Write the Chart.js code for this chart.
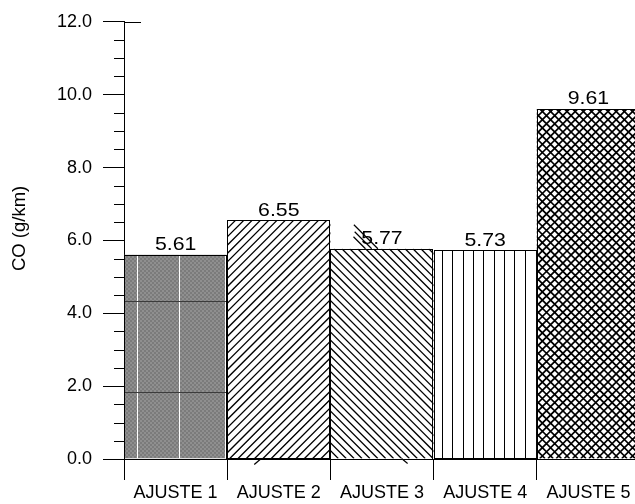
<!DOCTYPE html>
<html>
<head>
<meta charset="utf-8">
<script src="https://cdn.jsdelivr.net/npm/chart.js@4"></script>
<style>
  html, body { margin: 0; padding: 0; background: #fff; overflow: hidden; }
  #wrap { width: 641px; height: 504px; }
</style>
</head>
<body>
<div id="wrap"><canvas id="c" width="641" height="504"></canvas></div>
<script>
// CO emissions per adjustment setting
const categories = ['AJUSTE 1', 'AJUSTE 2', 'AJUSTE 3', 'AJUSTE 4', 'AJUSTE 5'];
const coValues = [5.61, 6.55, 5.77, 5.73, 9.61];
const yMajorStep = 2;
const yMinorStep = 0.5;

const FONT = "'Liberation Sans', Arial, Helvetica, sans-serif";

// Fill style for each bar (same order as categories)
const fillKinds = ['checker', 'diagUp', 'diagDown', 'vertical', 'cross'];

function makeChecker() {
  const t = document.createElement('canvas');
  t.width = 4; t.height = 4;
  const g = t.getContext('2d');
  g.fillStyle = '#7b7b7b'; g.fillRect(0, 0, 4, 4);
  g.fillStyle = '#8f8f8f';
  g.fillRect(0, 0, 2, 2); g.fillRect(2, 2, 2, 2);
  return t;
}
const checkerTile = makeChecker();

function drawFill(ctx, kind, l, t, r, b) {
  const w = r - l, h = b - t;
  ctx.strokeStyle = '#000';
  if (kind === 'checker') {
    ctx.fillStyle = ctx.createPattern(checkerTile, 'repeat');
    ctx.fillRect(l, t, w, h);
    // texture seams of the fill
    ctx.strokeStyle = '#ffffff';
    ctx.lineWidth = 1;
    [0.126, 0.533, 0.978].forEach(f => {
      const x = Math.round(l + f * w) + 0.5;
      ctx.beginPath(); ctx.moveTo(x, t); ctx.lineTo(x, b); ctx.stroke();
    });
    ctx.strokeStyle = '#3c3c3c';
    [0.773, 0.324].forEach(f => {
      const y = Math.round(b - f * h) + 0.5;
      ctx.beginPath(); ctx.moveTo(l, y); ctx.lineTo(r, y); ctx.stroke();
    });
    return;
  }
  ctx.fillStyle = '#fff';
  ctx.fillRect(l, t, w, h);
  ctx.beginPath();
  if (kind === 'diagUp') {
    const s = 8.3;
    ctx.lineWidth = 1.3;
    for (let x = l - h; x < r + s; x += s) {
      ctx.moveTo(x, b); ctx.lineTo(x + h, t);
    }
  } else if (kind === 'diagDown') {
    const s = 7.9;
    ctx.lineWidth = 1.3;
    for (let x = l - h; x < r + s; x += s) {
      ctx.moveTo(x, t); ctx.lineTo(x + h, b);
    }
  } else if (kind === 'vertical') {
    const s = 10.3;
    ctx.lineWidth = 1;
    for (let x = l + 8.5; x < r - 2; x += s) {
      const px = Math.round(x) + 0.5;
      ctx.moveTo(px, t); ctx.lineTo(px, b);
    }
  } else if (kind === 'cross') {
    const s = 8.2;
    ctx.lineWidth = 1.7;
    for (let x = l - h; x < r + s; x += s) {
      ctx.moveTo(x, b); ctx.lineTo(x + h, t);
      ctx.moveTo(x, t); ctx.lineTo(x + h, b);
    }
  }
  ctx.stroke();
}

// a few hatch strokes that run past the bar outline
function drawStrays(ctx, kind, l, t, r, b) {
  ctx.save();
  ctx.strokeStyle = '#000';
  ctx.lineWidth = 1.2;
  ctx.beginPath();
  if (kind === 'diagDown') {
    // above the top edge, over the label
    [[0.34, 12], [0.40, 17], [0.46, 24]].forEach(([f, len]) => {
      const x0 = l + f * (r - l);
      ctx.moveTo(x0 - len, t - len); ctx.lineTo(x0, t);
    });
    // below the base
    const xb = l + 0.69 * (r - l);
    ctx.moveTo(xb, b); ctx.lineTo(xb + 6, b + 5);
  } else if (kind === 'diagUp') {
    const xb = l + 0.33 * (r - l);
    ctx.moveTo(xb, b); ctx.lineTo(xb - 7, b + 6);
  }
  ctx.stroke();
  ctx.restore();
}

const barPainter = {
  id: 'barPainter',
  afterDatasetsDraw(chart) {
    const ctx = chart.ctx;
    const meta = chart.getDatasetMeta(0);
    meta.data.forEach((bar, i) => {
      const l = bar.x - bar.width / 2, r = bar.x + bar.width / 2;
      const t = bar.y, b = bar.base;
      ctx.save();
      ctx.beginPath(); ctx.rect(l, t, r - l, b - t); ctx.clip();
      drawFill(ctx, fillKinds[i], l, t, r, b);
      ctx.restore();
      // outline
      ctx.save();
      ctx.strokeStyle = '#000'; ctx.lineWidth = 1;
      ctx.strokeRect(Math.round(l) + 0.5, Math.round(t) + 0.5, Math.round(r - l) - 1, Math.round(b - t));
      ctx.restore();
      // value label
      ctx.save();
      ctx.fillStyle = '#000';
      ctx.font = '18.5px ' + FONT;
      ctx.textAlign = 'center';
      ctx.textBaseline = 'alphabetic';
      ctx.translate(bar.x, t - 4.5);
      ctx.scale(1.15, 1);
      ctx.fillText(coValues[i].toFixed(2), 0, 0);
      ctx.restore();
      drawStrays(ctx, fillKinds[i], l, t, r, b);
    });
  },
  afterDraw(chart) {
    const ctx = chart.ctx;
    const y = chart.scales.y;
    const ax = chart.chartArea.left;
    // minor ticks on the value axis
    ctx.save();
    ctx.strokeStyle = '#000'; ctx.lineWidth = 1;
    ctx.beginPath();
    for (let v = 0; v <= y.max + 1e-9; v += yMinorStep) {
      if (Math.abs(v / yMajorStep - Math.round(v / yMajorStep)) < 1e-6) continue;
      const py = Math.round(y.getPixelForValue(v)) + 0.5;
      ctx.moveTo(ax - 10, py); ctx.lineTo(ax, py);
    }
    // top tick runs on past the axis
    const pt = Math.round(y.getPixelForValue(y.max)) + 0.5;
    ctx.moveTo(ax, pt); ctx.lineTo(ax + 17, pt);
    ctx.stroke();
    // axis title
    ctx.translate(20, (chart.chartArea.top + chart.chartArea.bottom) / 2 - 12);
    ctx.rotate(-Math.PI / 2);
    ctx.fillStyle = '#000';
    ctx.font = '18.5px ' + FONT;
    ctx.textAlign = 'center';
    ctx.textBaseline = 'middle';
    ctx.fillText('CO (g/km)', 0, 0);
    ctx.restore();
  }
};

new Chart(document.getElementById('c'), {
  type: 'bar',
  data: {
    labels: categories,
    datasets: [{
      data: coValues,
      backgroundColor: 'rgba(0,0,0,0)',
      borderWidth: 0,
      barPercentage: 1,
      categoryPercentage: 1
    }]
  },
  options: {
    responsive: false,
    animation: false,
    devicePixelRatio: 1,
    layout: { autoPadding: false, padding: { top: 17, right: 1, left: 0, bottom: 0 } },
    plugins: { legend: { display: false }, tooltip: { enabled: false } },
    scales: {
      x: {
        offset: true,
        grid: { offset: true, drawOnChartArea: false, tickLength: 21, tickColor: '#000', tickWidth: 1 },
        border: { color: '#000', width: 1 },
        ticks: { color: '#000', font: { size: 18, family: FONT }, padding: 2, maxRotation: 0, autoSkip: false },
        afterFit(s) { s.height = 45; }
      },
      y: {
        min: 0, max: 12,
        grid: { drawOnChartArea: false, tickLength: 21, tickColor: '#000', tickWidth: 1 },
        border: { color: '#000', width: 1 },
        ticks: { stepSize: yMajorStep, color: '#000', font: { size: 18, family: FONT }, padding: 11,
                 callback: v => Number(v).toFixed(1) },
        afterFit(s) { s.width = 124; }
      }
    }
  },
  plugins: [barPainter]
});
</script>
</body>
</html>
